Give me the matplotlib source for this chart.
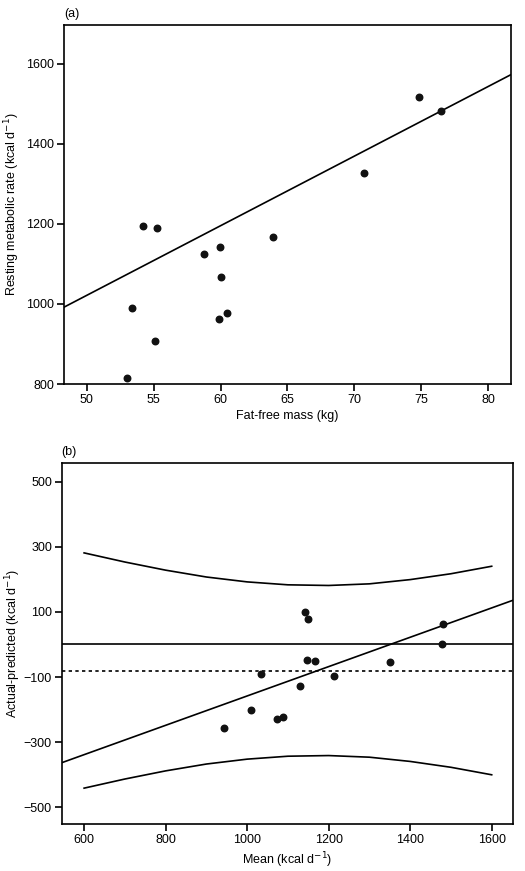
import matplotlib
matplotlib.use("Agg")
import matplotlib.pyplot as plt
import numpy as np

plt.rcParams['font.family'] = ['Liberation Sans', 'DejaVu Sans']

# Panel (a) data
ffm = [74.8, 76.5, 70.7, 54.2, 55.25, 58.75, 59.95, 63.9, 60.05, 53.4, 60.45, 59.85, 55.1, 53.0]
rmr = [1517, 1481, 1326, 1196, 1190, 1124, 1143, 1167, 1067, 991, 977, 962, 908, 815]
fit_a_x = [48.3, 81.7]
fit_a_y = [992, 1573]

# Panel (b) data
mean_b = [1143, 1150, 1481, 1477, 1147, 1167, 1350, 1035, 1213, 1130, 1009, 1089, 1074, 944]
diff_b = [100, 77, 64, 0, -49, -51, -55, -90, -96, -128, -200, -224, -229, -257]
fit_b_x = [545, 1653]
fit_b_y = [-363, 136]
mean_diff = -81
band_x = [600, 700, 800, 900, 1000, 1100, 1200, 1300, 1400, 1500, 1600]
band_upper = [281, 253, 228, 207, 192, 183, 181, 186, 199, 217, 240]
band_lower = [-441, -413, -388, -367, -352, -343, -341, -346, -359, -377, -400]

fig = plt.figure(figsize=(5.25, 8.71), dpi=100)
ax1 = fig.add_axes([0.1219, 0.5591, 0.8514, 0.4122])
ax2 = fig.add_axes([0.1175, 0.0536, 0.8602, 0.4145])

fs = 9
for ax in (ax1, ax2):
    for s in ax.spines.values():
        s.set_linewidth(1.2)
    ax.tick_params(direction='out', length=5, width=1.2, pad=2, labelsize=fs, top=False, right=False)

# (a)
ax1.plot(fit_a_x, fit_a_y, color='black', lw=1.2)
ax1.scatter(ffm, rmr, s=22, color='#111111', zorder=3)
ax1.set_xlim(48.3, 81.7)
ax1.set_ylim(800, 1697)
ax1.set_xticks([50, 55, 60, 65, 70, 75, 80])
ax1.set_yticks([800, 1000, 1200, 1400, 1600])
ax1.set_xlabel('Fat-free mass (kg)', fontsize=fs, labelpad=3)
ax1.set_ylabel('Resting metabolic rate (kcal d$^{-1}$)', fontsize=fs)
ax1.yaxis.set_label_coords(-0.094, 0.5)
ax1.text(0.0, 1.015, '(a)', transform=ax1.transAxes, fontsize=fs, ha='left', va='bottom')

# (b)
ax2.axhline(0, color='black', lw=1.2)
ax2.axhline(mean_diff, color='black', lw=1.2, ls=(0, (2, 2)))
ax2.plot(fit_b_x, fit_b_y, color='black', lw=1.2)
ax2.plot(band_x, band_upper, color='black', lw=1.2)
ax2.plot(band_x, band_lower, color='black', lw=1.2)
ax2.scatter(mean_b, diff_b, s=22, color='#111111', zorder=3)
ax2.set_xlim(545, 1653)
ax2.set_ylim(-552, 556)
ax2.set_xticks([600, 800, 1000, 1200, 1400, 1600])
ax2.set_yticks([-500, -300, -100, 100, 300, 500])
ax2.set_yticklabels(['\u2212500', '\u2212300', '\u2212100', '100', '300', '500'])
ax2.set_xlabel('Mean (kcal d$^{-1}$)', fontsize=fs, labelpad=3)
ax2.set_ylabel('Actual-predicted (kcal d$^{-1}$)', fontsize=fs)
ax2.yaxis.set_label_coords(-0.085, 0.5)
ax2.text(0.0, 1.015, '(b)', transform=ax2.transAxes, fontsize=fs, ha='left', va='bottom')

fig.savefig('out.png', dpi=100)
